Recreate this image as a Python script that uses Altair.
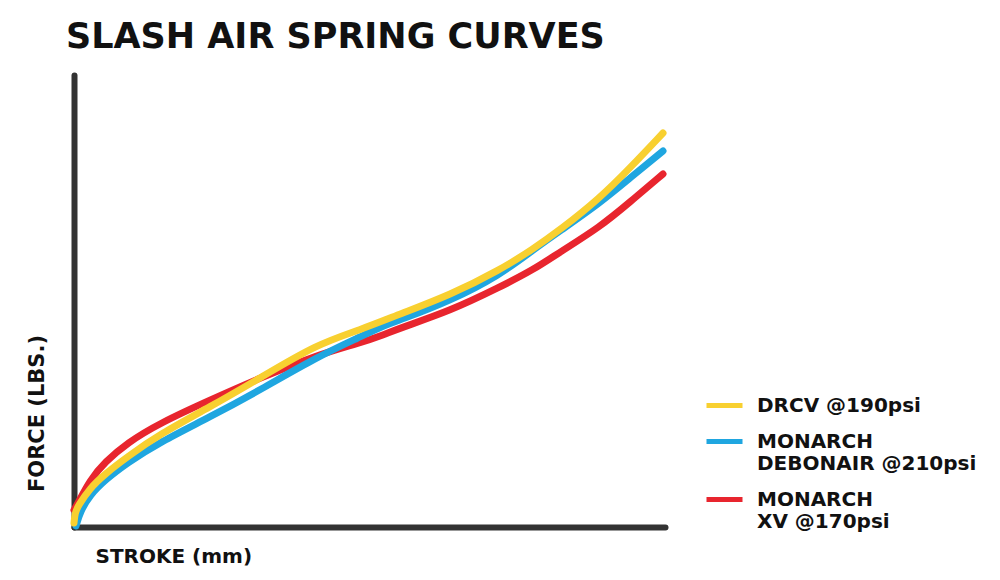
import altair as alt
import pandas as pd

series_names = ["DRCV @190psi", "MONARCH\nDEBONAIR @210psi", "MONARCH\nXV @170psi"]
series_colors = ["#F8D030", "#1FA6E0", "#E8252E"]

stroke_drcv = [0, 1, 4, 16, 31, 53, 86, 136, 186, 243, 286, 326, 376, 426, 459, 486, 526, 556, 589]
force_drcv = [4, 14, 21, 39, 53, 70, 93, 120, 149, 183, 197, 213, 232, 257, 278, 297, 329, 359, 394]

stroke_deb = [2, 6, 16, 31, 53, 86, 136, 186, 243, 286, 309, 326, 376, 426, 459, 486, 526, 556, 589]
force_deb = [1, 15, 32, 47, 64, 85, 110, 137, 170, 190, 201, 207, 226, 252, 277, 296, 324, 349, 376]

stroke_xv = [0, 4, 16, 31, 53, 86, 136, 186, 243, 286, 309, 326, 376, 426, 459, 486, 526, 556, 589]
force_xv = [17, 24, 47, 65, 84, 104, 127, 149, 172, 184, 192, 199, 216, 240, 257, 275, 300, 325, 353]

rows = []
for name, xs, ys in [
    (series_names[0], stroke_drcv, force_drcv),
    (series_names[1], stroke_deb, force_deb),
    (series_names[2], stroke_xv, force_xv),
]:
    for i, (x, y) in enumerate(zip(xs, ys)):
        rows.append({"series": name, "stroke": x, "force": y, "i": i})
df = pd.DataFrame(rows)

FONT = "DejaVu Sans"

color = alt.Color(
    "series:N",
    scale=alt.Scale(domain=series_names, range=series_colors),
    legend=alt.Legend(
        title=None,
        orient="none",
        legendX=630,
        legendY=310,
        symbolType="stroke",
        symbolSize=1296,
        symbolStrokeWidth=5,
        labelFont=FONT,
        labelFontSize=20,
        labelFontWeight="bold",
        labelColor="#111111",
        labelOffset=12,
        labelLimit=400,
        labelBaseline="middle",
        labelExpr="split(datum.label, '\\n')",
        rowPadding=5,
        padding=0,
    ),
)

x = alt.X(
    "stroke:Q",
    scale=alt.Scale(domain=[0, 591], nice=False, zero=False),
    axis=alt.Axis(
        title="STROKE (mm)",
        labels=False, ticks=False, grid=False,
        domainColor="#333333", domainWidth=6, domainCap="round",
        titleFont=FONT, titleFontSize=20, titleFontWeight="bold", titleColor="#111111",
        titleAlign="left", titleBaseline="alphabetic", titleX=21, titleY=35, titleAngle=0,
    ),
)
y = alt.Y(
    "force:Q",
    scale=alt.Scale(domain=[0, 452], nice=False, zero=False),
    axis=alt.Axis(
        title="FORCE (LBS.)",
        labels=False, ticks=False, grid=False,
        domainColor="#333333", domainWidth=6, domainCap="round",
        titleFont=FONT, titleFontSize=21, titleFontWeight="bold", titleColor="#111111",
        titleAlign="center", titleBaseline="middle", titleX=-37, titleY=338, titleAngle=270,
    ),
)

def layer(name):
    return alt.Chart(df).transform_filter(alt.datum.series == name).mark_line(
        strokeWidth=7, strokeCap="round", interpolate="basis"
    ).encode(x=x, y=y, color=color, order="i:Q")

chart = alt.layer(
    layer(series_names[2]), layer(series_names[1]), layer(series_names[0])
).properties(
    width=591,
    height=452,
    background="white",
    autosize=alt.AutoSizeParams(type="none"),
    padding={"left": 66, "top": 67, "right": 320, "bottom": 45},
    title=alt.Title(
        "SLASH AIR SPRING CURVES",
        anchor="start", font=FONT, fontSize=35, fontWeight="bold", color="#111111",
        dx=40, offset=20,
    ),
).configure_view(stroke=None)

chart.save("out.html", embed_options={"renderer": "svg", "actions": False})
